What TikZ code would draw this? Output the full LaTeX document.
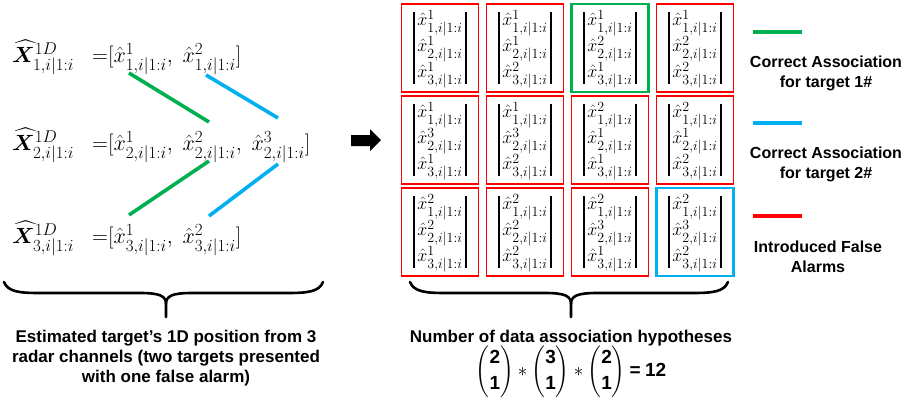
\documentclass[tikz,border=0pt]{standalone}
\usepackage{fix-cm}
\usepackage{amsmath,bm}
\usepackage[no-math]{fontspec}
\setmainfont{Liberation Sans}
\DeclareMathSizes{18}{18}{14}{10}
\DeclareMathSizes{22}{22}{17}{12}
\definecolor{cgreen}{HTML}{00B050}
\definecolor{cblue}{HTML}{00B0F0}
\definecolor{cred}{HTML}{FF0000}
\tikzset{
  hbox/.style={minimum width=77pt, minimum height=88pt, inner sep=0pt, line width=1.6pt},
  hboxhl/.style={hbox, line width=2.6pt},
  vbar/.style={line width=1.6pt, black},
  entry/.style={inner sep=0pt, font=\fontsize{18}{20}\selectfont},
  assoc/.style={line width=3.6pt},
  legline/.style={line width=4pt},
  lformula/.style={inner sep=0pt, anchor=base west, font=\fontsize{22}{24}\selectfont},
  legtext/.style={align=center, inner sep=0pt, font=\fontsize{16}{20}\selectfont\bfseries},
  bottext/.style={align=center, inner sep=0pt, font=\fontsize{17}{20}\selectfont\bfseries},
  bracepath/.style={line width=2.6pt, line cap=round}
}
\newcommand\hcell[8]{% name, cx, cy, a, b, c, colour, style
  \node[#8, draw=#7] (#1) at (#2,#3) {};
  \draw[vbar] ([xshift=-26pt, yshift=36pt]#1.center) -- ([xshift=-26pt, yshift=-36pt]#1.center);
  \draw[vbar] ([xshift=26pt, yshift=36pt]#1.center) -- ([xshift=26pt, yshift=-36pt]#1.center);
  \node[entry] (#1a) at ([yshift=25pt]#1.center) {$\hat{x}^{#4}_{1,i|1:i}$};
  \node[entry] (#1b) at ([yshift=-1pt]#1.center) {$\hat{x}^{#5}_{2,i|1:i}$};
  \node[entry] (#1c) at ([yshift=-27pt]#1.center) {$\hat{x}^{#6}_{3,i|1:i}$};
}
\begin{document}
\begin{tikzpicture}[x=1pt, y=-1pt]
\useasboundingbox (0,0) rectangle (914,400);
% left formulas
\node[lformula] (X1) at (12,62) {$\widehat{\bm{X}}^{1D}_{1,i|1:i}$};
\node[lformula] (E1) at (92,62) {${=}[\hat{x}^{1}_{1,i|1:i},\ \hat{x}^{2}_{1,i|1:i}]$};
\node[lformula] (X2) at (12,150) {$\widehat{\bm{X}}^{1D}_{2,i|1:i}$};
\node[lformula] (E2) at (92,150) {${=}[\hat{x}^{1}_{2,i|1:i},\ \hat{x}^{2}_{2,i|1:i},\ \hat{x}^{3}_{2,i|1:i}]$};
\node[lformula] (X3) at (12,243) {$\widehat{\bm{X}}^{1D}_{3,i|1:i}$};
\node[lformula] (E3) at (92,243) {${=}[\hat{x}^{1}_{3,i|1:i},\ \hat{x}^{2}_{3,i|1:i}]$};
% association lines
\coordinate (g1a) at (129,73); \coordinate (g1b) at (209,122);
\coordinate (b1a) at (206,75); \coordinate (b1b) at (278,118);
\coordinate (g2a) at (209,161); \coordinate (g2b) at (129,215);
\coordinate (b2a) at (278,164); \coordinate (b2b) at (209,216);
\draw[assoc, cgreen] (g1a) -- (g1b);
\draw[assoc, cblue] (b1a) -- (b1b);
\draw[assoc, cgreen] (g2a) -- (g2b);
\draw[assoc, cblue] (b2a) -- (b2b);
% arrow
\fill[black] (351,135) -- (370,135) -- (370,129) -- (381,140) -- (370,151) -- (370,146) -- (351,146) -- cycle;
% hypothesis grid
\hcell{c11}{440}{48}{1}{1}{1}{cred}{hbox}
\hcell{c12}{525}{48}{1}{1}{2}{cred}{hbox}
\hcell{c13}{610}{48}{1}{2}{1}{cgreen}{hboxhl}
\hcell{c14}{695}{48}{1}{2}{2}{cred}{hbox}
\hcell{c21}{440}{140}{1}{3}{1}{cred}{hbox}
\hcell{c22}{525}{140}{1}{3}{2}{cred}{hbox}
\hcell{c23}{610}{140}{2}{1}{1}{cred}{hbox}
\hcell{c24}{695}{140}{2}{1}{2}{cred}{hbox}
\hcell{c31}{440}{232}{2}{2}{1}{cred}{hbox}
\hcell{c32}{525}{232}{2}{2}{2}{cred}{hbox}
\hcell{c33}{610}{232}{2}{3}{1}{cred}{hbox}
\hcell{c34}{695}{232}{2}{3}{2}{cblue}{hboxhl}
% legend
\draw[legline, cgreen] (753,32) -- (802,32);
\node[legtext] (L1) at (826,73) {Correct Association\\for target 1\#};
\draw[legline, cblue] (753,123) -- (802,123);
\node[legtext] (L2) at (826,164) {Correct Association\\for target 2\#};
\draw[legline, cred] (753,216) -- (802,216);
\node[legtext] (L3) at (818,257) {Introduced False\\Alarms};
% braces
\draw[bracepath] (4,282) .. controls (8,292) and (20,293) .. (40,293) -- (140,293)
  .. controls (160,293) and (166,296) .. (166,304) -- (166,317);
\draw[bracepath] (323,282) .. controls (319,292) and (307,293) .. (287,293) -- (192,293)
  .. controls (172,293) and (166,296) .. (166,304);
\draw[bracepath] (410,282) .. controls (414,292) and (426,293) .. (446,293) -- (545,293)
  .. controls (565,293) and (571,296) .. (571,304) -- (571,317);
\draw[bracepath] (728,282) .. controls (724,292) and (712,293) .. (692,293) -- (597,293)
  .. controls (577,293) and (571,296) .. (571,304);
% bottom texts
\node[bottext] (T1) at (166,358) {Estimated target's 1D position from 3\\radar channels (two targets presented\\with one false alarm)};
\node[bottext] (T2) at (571,338) {Number of data association hypotheses};
\node[inner sep=0pt, font=\fontsize{19}{22}\selectfont] (T3) at (571,372)
  {$\displaystyle\binom{\textbf{2}}{\textbf{1}} * \binom{\textbf{3}}{\textbf{1}} * \binom{\textbf{2}}{\textbf{1}} \mathbin{\textbf{=}} \textbf{12}$};
\end{tikzpicture}
\end{document}
